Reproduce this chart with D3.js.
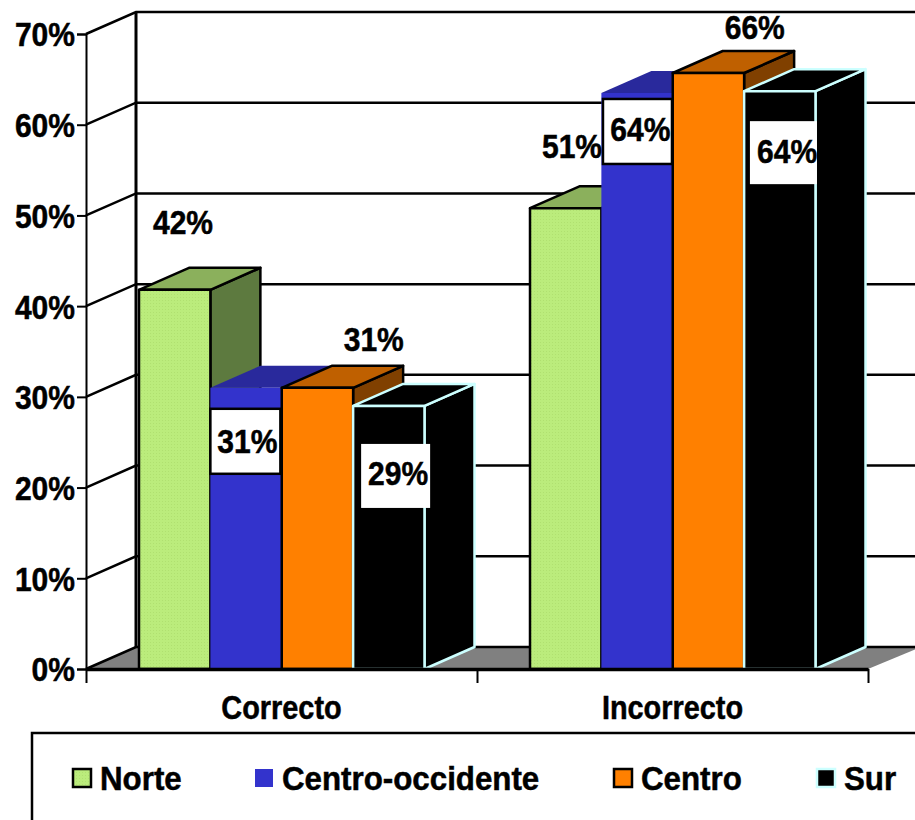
<!DOCTYPE html>
<html><head><meta charset="utf-8">
<script src="https://cdn.jsdelivr.net/npm/d3@7/dist/d3.min.js"></script>
<style>html,body{margin:0;background:#fff;overflow:hidden}svg{display:block}text{font-family:"Liberation Sans",Arial,sans-serif;font-weight:700;fill:#000;stroke:#000;stroke-width:.5px}</style>
</head><body><svg id="c" width="915" height="820"></svg>
<script>
const categories = ["Correcto", "Incorrecto"];
const seriesNames = ["Norte", "Centro-occidente", "Centro", "Sur"];
const norte = [41.8, 50.8];
const centroOccidente = [31, 63.5];
const centro = [31, 65.7];
const sur = [29, 63.7];
const yTicks = [0, 10, 20, 30, 40, 50, 60, 70];

const seriesValues = [norte, centroOccidente, centro, sur];
const styles = [
  {front:"url(#dots)", top:"#8bb05c", side:"#5d7a3f", stroke:"#000", sw:2.5},
  {front:"#3333cc", top:"#29299c", side:"#1f1f80", stroke:"none", sw:0},
  {front:"#ff8000", top:"#bf6000", side:"#804000", stroke:"#000", sw:2.5},
  {front:"#000", top:"#000", side:"#000", stroke:"#ccffff", sw:2.5}
];
// label placement relative to the bar's front-top-left corner: [dx, dy, boxed]
const labelPlacement = [
  [[44,-68,null],[42,-62,null]],
  [[37,53,{x:0,y:21,w:70,h:65,stroke:"#000"}],[39,36,{x:1.6,y:6,w:69,h:65,stroke:"#000"}]],
  [[92,-49,null],[82,-46,null]],
  [[45,67,{x:8,y:38,w:69,h:64,stroke:"none"}],[43,60,{x:5.8,y:30,w:67,h:63,stroke:"none"}]]
];
const DX = 50, DY = -22;
const FONT = 33;
const svg = d3.select("#c");
const x0 = d3.scaleBand().domain(categories).range([86, 868]);
const x1 = d3.scaleBand().domain(seriesNames).range([53, 338.5]);
const y = d3.scaleLinear().domain([0, 70]).range([669, 34]);
const line = d3.line();
// the reference's type is tall and condensed: squeeze real text horizontally
const squeeze = (sel, k) => sel.each(function () {
  d3.select(this).attr("textLength", this.getComputedTextLength() * k).attr("lengthAdjust", "spacingAndGlyphs");
});

const defs = svg.append("defs");
const pat = defs.append("pattern").attr("id","dots").attr("width",3).attr("height",3).attr("patternUnits","userSpaceOnUse");
pat.append("rect").attr("width",3).attr("height",3).attr("fill","#bbec7c");
pat.append("rect").attr("width",1).attr("height",1).attr("fill","#b0e070");

// floor
const right = x0.range()[1];
svg.append("path").attr("d", line([[86,y(0)],[86+DX,y(0)+DY],[right+DX+3,y(0)+DY],[right,y(0)]]) + "Z").attr("fill","#808080");

// back wall and left wall gridlines
const grid = svg.append("g");
yTicks.forEach(t => {
  grid.append("path").attr("d", line([[86,y(t)],[86+DX,y(t)+DY],[right+DX+3,y(t)+DY]]))
    .attr("fill","none").attr("stroke","#000").attr("stroke-width",2.5);
});
grid.append("line").attr("x1",86+DX).attr("x2",86+DX).attr("y1",y(0)+DY).attr("y2",y(70)+DY).attr("stroke","#000").attr("stroke-width",3);

// y axis
const yAxis = svg.append("g").attr("transform","translate(86,0)")
  .call(d3.axisLeft(y).tickValues(yTicks).tickFormat(d => d + "%").tickSize(9).tickPadding(2));
yAxis.selectAll("path,line").attr("stroke","#000").attr("stroke-width",2);
yAxis.selectAll("text").attr("font-size",FONT).attr("fill","#000").attr("dy","0.36em").style("font-family",'"Liberation Sans",Arial,sans-serif').call(squeeze, 0.91);

// bars
const bars = svg.append("g");
categories.forEach((c, ci) => {
  seriesNames.forEach((s, si) => {
    const v = seriesValues[si][ci], st = styles[si];
    const l = x0(c) + x1(s), r = l + x1.bandwidth(), t = y(v), b = y(0);
    const g = bars.append("g").attr("stroke",st.stroke).attr("stroke-width",st.sw).attr("stroke-linejoin","round");
    g.append("path").attr("fill",st.side).attr("d", line([[r,t],[r+DX,t+DY],[r+DX,b+DY],[r,b]])+"Z");
    g.append("path").attr("fill",st.top).attr("d", line([[l,t],[l+DX,t+DY],[r+DX,t+DY],[r,t]])+"Z");
    g.append("rect").attr("x",l).attr("y",t).attr("width",r-l).attr("height",b-t).attr("fill",st.front);
  });
});

// bottom axis line and boundary ticks
const cat = d3.scaleLinear().domain([0, categories.length]).range(x0.range());
const xTicks = svg.append("g").attr("transform",`translate(0,${y(0)})`)
  .call(d3.axisBottom(cat).tickValues(d3.range(categories.length+1)).tickFormat("").tickSize(14).tickSizeOuter(0));
xTicks.select("path").attr("stroke","#000").attr("stroke-width",3.5);
xTicks.selectAll("line").attr("stroke","#000").attr("stroke-width",2);

svg.append("g").selectAll("text").data(categories).join("text")
  .attr("x", d => x0(d) + x0.bandwidth()/2).attr("y",719).attr("text-anchor","middle")
  .attr("font-size",FONT).text(d => d).call(squeeze, 0.875);

// value labels
const labels = svg.append("g");
categories.forEach((c, ci) => {
  seriesNames.forEach((s, si) => {
    const v = seriesValues[si][ci];
    const l = x0(c) + x1(s), t = y(v);
    const [dx, dy, box] = labelPlacement[si][ci];
    if (box) labels.append("rect").attr("x",l+box.x).attr("y",t+box.y).attr("width",box.w).attr("height",box.h)
      .attr("fill","#fff").attr("stroke",box.stroke).attr("stroke-width",2.5);
    labels.append("text").attr("x",l+dx).attr("y",t+dy).attr("dy","0.36em").attr("text-anchor","middle")
      .attr("font-size",FONT).text(d3.format(".0f")(v)+"%").call(squeeze, 0.91);
  });
});

// legend
svg.append("path").attr("d", line([[32,825],[32,733],[925,733]])).attr("fill","none").attr("stroke","#000").attr("stroke-width",2.5);
const legendX = d3.scaleOrdinal().domain(seriesNames).range([73, 255, 614, 817]);
const legend = svg.append("g").selectAll("g").data(seriesNames).join("g").attr("transform", d => `translate(${legendX(d)},769)`);
legend.append("rect").attr("width",18).attr("height",18)
  .attr("fill",(d,i)=>styles[i].front).attr("stroke",(d,i)=>styles[i].stroke).attr("stroke-width",2.5);
legend.append("text").attr("x",27).attr("y",20.5).attr("font-size",FONT).text(d=>d).call(squeeze, 0.948);
</script></body></html>
